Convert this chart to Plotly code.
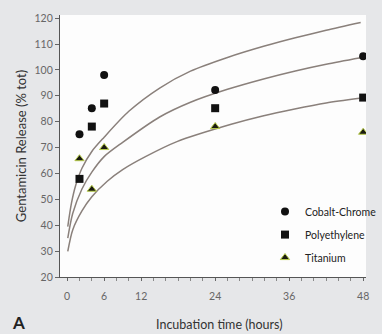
import plotly.graph_objects as go

# ---- data ----
hours = [2, 4, 6, 24, 48]
cobalt_chrome = [75.1, 85.2, 98.0, 92.2, 105.3]
polyethylene = [57.9, 78.1, 87.0, 85.2, 89.3]
titanium = [65.7, 53.9, 70.0, 78.1, 75.9]

# fitted curves
fit_top_h = [0.1, 0.7, 1.4, 2.4, 4, 6, 10, 15, 20, 26, 32, 37, 42, 47.6]
fit_top_v = [39.5, 48.5, 55.5, 62, 68.5, 74, 84, 93, 99.5, 104.8, 109.2, 112.4, 115.3, 118.3]
fit_mid_h = [0.1, 0.9, 2.4, 4, 6, 9, 15, 20, 26, 32, 37, 42, 47.6]
fit_mid_v = [35, 44.5, 54, 60.5, 66.5, 72, 81.8, 87.5, 92.5, 96.6, 99.6, 102.2, 104.7]
fit_bot_h = [0.1, 0.9, 2.4, 4, 6.5, 9, 12.7, 17.8, 26.6, 31.7, 36.9, 42, 47.4]
fit_bot_v = [29.9, 38.2, 45.5, 51, 57, 61.5, 66.5, 72.3, 79.0, 82.2, 84.9, 87.2, 89.0]

x_ticks = [0, 6, 12, 24, 36, 48]
y_ticks = [20, 30, 40, 50, 60, 70, 80, 90, 100, 110, 120]

FONT = "Lato"
curve_color = "#8a807b"

fig = go.Figure()
for hx, vy in [(fit_top_h, fit_top_v), (fit_mid_h, fit_mid_v), (fit_bot_h, fit_bot_v)]:
    fig.add_trace(go.Scatter(x=hx, y=vy, mode="lines", showlegend=False,
                             line=dict(color=curve_color, width=1.5, shape="spline", smoothing=0.8),
                             hoverinfo="skip"))

fig.add_trace(go.Scatter(x=hours, y=cobalt_chrome, mode="markers", name="Cobalt-Chrome",
                         marker=dict(symbol="circle", size=8, color="#111111"), legendgroup="a"))
fig.add_trace(go.Scatter(x=hours, y=polyethylene, mode="markers", name="Polyethylene",
                         marker=dict(symbol="square", size=8, color="#111111"), legendgroup="b"))
fig.add_trace(go.Scatter(x=hours, y=titanium, mode="markers", name="Titanium",
                         marker=dict(symbol="triangle-up", size=8, color="#1a1a10",
                                     line=dict(color="#b8cc4a", width=1)), legendgroup="c"))

fig.update_layout(
    width=382, height=334,
    margin=dict(l=60, r=0, t=15, b=57),
    paper_bgcolor="#e6e7e9",
    plot_bgcolor="#fdfdfd",
    font=dict(family=FONT, color="#333333"),
    legend=dict(x=0.67, y=0.305, xanchor="left", yanchor="top",
                bgcolor="rgba(0,0,0,0)", font=dict(size=10.5, color="#222222", family=FONT),
                tracegroupgap=4, itemwidth=30),
    xaxis=dict(range=[-1.16, 48.46], tickmode="array", tickvals=x_ticks,
               showgrid=False, zeroline=False, showline=True, linecolor="#555555", linewidth=1.2,
               ticks="outside", ticklen=3, tickcolor="#666666",
               minor=dict(dtick=2, tick0=0, ticks="outside", ticklen=3, tickcolor="#888888"),
               tickfont=dict(size=10.5, color="#666666"), ticklabelstandoff=6,
               ticklabeloverflow="allow"),
    yaxis=dict(range=[20, 121.2], tickmode="array", tickvals=y_ticks,
               showgrid=False, zeroline=False, showline=True, linecolor="#555555", linewidth=1.2,
               ticks="outside", ticklen=4, tickcolor="#666666",
               tickfont=dict(size=10.5, color="#666666")),
    annotations=[
        dict(text="Gentamicin Release (% tot)", xref="paper", yref="paper", x=-0.127, y=0.5,
             xanchor="center", yanchor="middle", showarrow=False, textangle=-90,
             font=dict(size=13, color="#333333", family=FONT)),
        dict(text="Incubation time (hours)", xref="paper", yref="paper", x=0.52, y=-0.183,
             xanchor="center", yanchor="middle", showarrow=False,
             font=dict(size=12.5, color="#333333", family=FONT)),
        dict(text="<b>A</b>", xref="paper", yref="paper", x=-0.135, y=-0.172,
             xanchor="center", yanchor="middle", showarrow=False,
             font=dict(size=17, color="#222222", family=FONT)),
    ],
)

fig.write_html("out.html")
